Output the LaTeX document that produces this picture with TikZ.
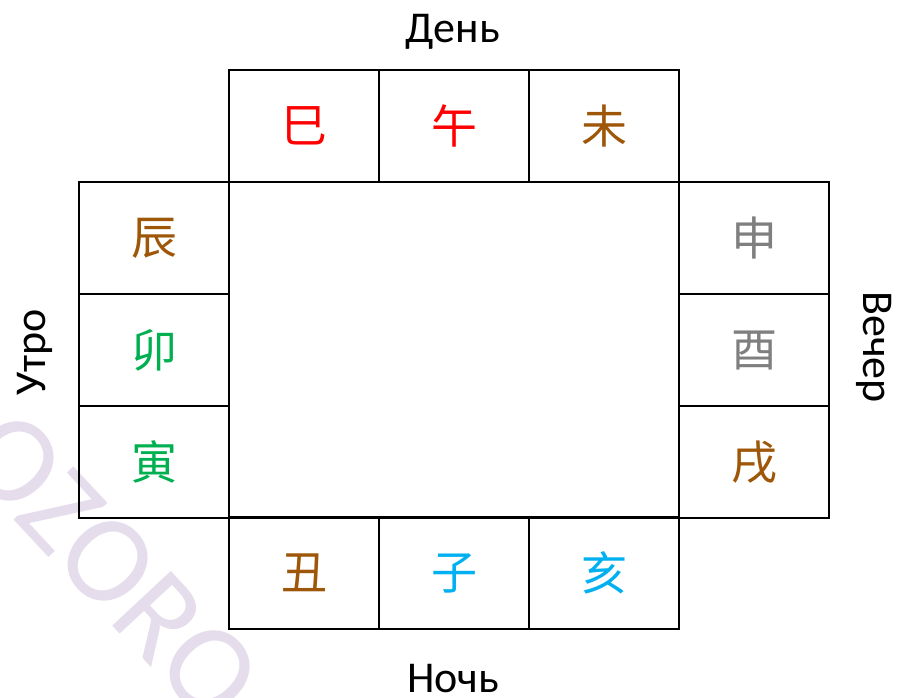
\documentclass[tikz,border=0pt]{standalone}
\usepackage{fontspec}
\setmainfont{Carlito}
\newfontfamily\cjk{Noto Sans CJK SC}
\usetikzlibrary{positioning}
\definecolor{fire}{RGB}{255,0,0}
\definecolor{earth}{RGB}{158,86,8}
\definecolor{wood}{RGB}{0,176,80}
\definecolor{metal}{RGB}{127,127,127}
\definecolor{water}{RGB}{0,176,240}
\definecolor{lilac}{RGB}{230,221,236}
\tikzset{
  cell/.style={draw, line width=2pt, outer sep=0pt, inner sep=0pt,
    minimum width=150pt, minimum height=112pt,
    font=\cjk\fontsize{46}{46}\selectfont},
  side/.style={anchor=base, font=\fontsize{44}{44}\selectfont},
}
\begin{document}
\begin{tikzpicture}[x=1pt, y=-1pt, node distance=0pt]
   \useasboundingbox (0,0) rectangle (899,697);
   % watermark
   \node (mark) [rotate=-47, text=lilac, font=\fontsize{125}{125}\selectfont] at (112,566) {OZORO};
   % top row
   \node (si)   [cell, text=fire]  at (304,126) {巳};
   \node (wu)   [cell, text=fire, right=of si] {午};
   \node (wei)  [cell, text=earth, right=of wu] {未};
   % left column
   \node (chen) [cell, text=earth] at (154,238) {辰};
   \node (mao)  [cell, text=wood, below=of chen] {卯};
   \node (yin)  [cell, text=wood, below=of mao] {寅};
   % right column
   \node (shen) [cell, text=metal] at (754,238) {申};
   \node (you)  [cell, text=metal, below=of shen] {酉};
   \node (xu)   [cell, text=earth, below=of you] {戌};
   % bottom row
   \node (chou) [cell, text=earth] at (304,573) {丑};
   \node (zi)   [cell, text=water, right=of chou] {子};
   \node (hai)  [cell, text=water, right=of zi] {亥};
   % middle square
   \draw[line width=2pt] (chen.north east) rectangle (xu.south west);
   % sides
   \node (day)     [side] at (453,42)  {День};
   \node (night)   [side] at (453,692) {Ночь};
   \node (morning) [side, rotate=90]  at (45,352)  {Утро};
   \node (evening) [side, rotate=-90] at (863,347) {Вечер};
\end{tikzpicture}
\end{document}
